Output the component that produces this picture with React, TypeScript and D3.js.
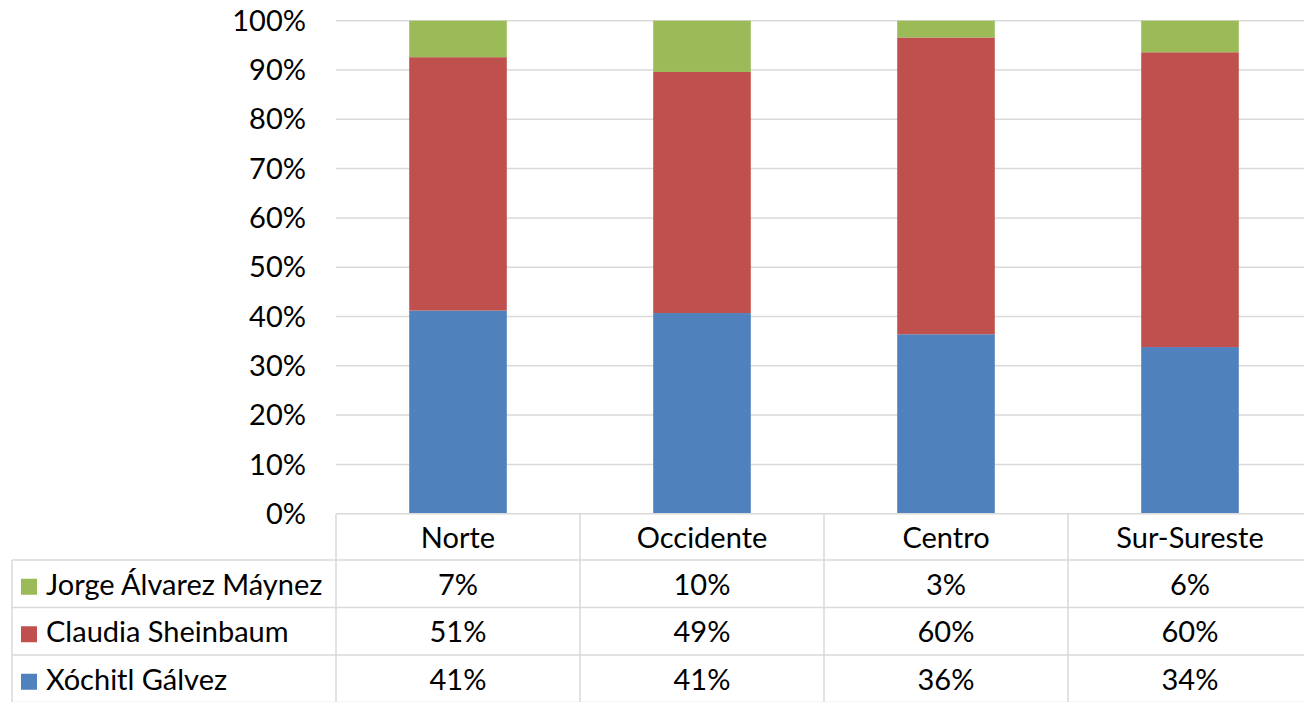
import React from "react";
import * as d3 from "d3";

const categories = ["Norte", "Occidente", "Centro", "Sur-Sureste"];
const seriesNames = ["Xóchitl Gálvez", "Claudia Sheinbaum", "Jorge Álvarez Máynez"];
const xochitl = [41.2, 40.7, 36.4, 33.8];
const claudia = [51.4, 48.9, 60.2, 59.8];
const jorge = [7.4, 10.4, 3.4, 6.4];
const colors = ["#4f81bd", "#c0504d", "#9bbb59"];
const yTicks = [0, 10, 20, 30, 40, 50, 60, 70, 80, 90, 100];

const W = 1304;
const H = 702;
const FONT = "Lato, 'Open Sans', sans-serif";
const FS = 29;

export default function App() {
  const plotLeft = 336;
  const plotRight = 1312;
  const x = d3
    .scaleBand<string>()
    .domain(categories)
    .range([plotLeft, plotRight])
    .paddingInner(0.6)
    .paddingOuter(0.3);
  const y = d3.scaleLinear().domain([0, 100]).range([513.7, 20.7]);

  const rows = categories.map((c, i) => ({
    cat: c,
    v: [xochitl[i], claudia[i], jorge[i]],
  }));
  const stack = d3.stack<any>().keys(["0", "1", "2"]).value((d: any, k: string) => d.v[+k]);
  const stacked = stack(rows as any);

  const step = x.step();
  const colEdges = categories.map((_, i) => plotLeft + i * step);
  const tableTop = y(0);
  const rowH = 47.5;
  const headerBottom = tableTop + 46.3;
  const tableLeft = 12;
  const tableRows = [2, 1, 0];
  const values = [xochitl, claudia, jorge];
  const grid = "#d9d9d9";

  return (
    <svg
      width={W}
      height={H}
      style={{ position: "absolute", left: 0, top: 0, background: "#fff" }}
      fontFamily={FONT}
    >
      {yTicks.filter((t) => t > 0).map((t) => (
        <line key={t} x1={plotLeft} x2={plotRight} y1={y(t)} y2={y(t)} stroke={grid} strokeWidth={1.5} />
      ))}
      {yTicks.map((t) => (
        <text key={t} x={306} y={y(t)} dy="0.35em" textAnchor="end" fontSize={FS} fill="#000">
          {t}%
        </text>
      ))}
      {stacked.map((s, si) =>
        s.map((d, i) => (
          <rect
            key={si + "-" + i}
            x={x(categories[i])}
            width={x.bandwidth()}
            y={y(d[1])}
            height={y(d[0]) - y(d[1])}
            fill={colors[si]}
          />
        ))
      )}
      <line x1={plotLeft} x2={plotRight} y1={tableTop} y2={tableTop} stroke={grid} strokeWidth={1.5} />
      {[0, 1, 2, 3].map((r) => (
        <line
          key={"h" + r}
          x1={tableLeft}
          x2={plotRight}
          y1={headerBottom + r * rowH}
          y2={headerBottom + r * rowH}
          stroke={grid}
          strokeWidth={1.5}
        />
      ))}
      {colEdges.concat([plotRight]).map((cx, i) => (
        <line key={"v" + i} x1={cx} x2={cx} y1={tableTop} y2={H + 2} stroke={grid} strokeWidth={1.5} />
      ))}
      <line x1={tableLeft} x2={tableLeft} y1={headerBottom} y2={H + 2} stroke={grid} strokeWidth={1.5} />
      {categories.map((c) => (
        <text
          key={c}
          x={(x(c) as number) + x.bandwidth() / 2}
          y={(tableTop + headerBottom) / 2 + 1}
          dy="0.35em"
          textAnchor="middle"
          fontSize={FS}
          fill="#000"
        >
          {c}
        </text>
      ))}
      {tableRows.map((si, r) => {
        const cy = headerBottom + r * rowH + rowH / 2 + 1;
        return (
          <g key={"r" + si}>
            <rect x={21} y={cy - 6} width={16} height={16} fill={colors[si]} />
            <text x={46} y={cy} dy="0.35em" fontSize={FS} fill="#000">
              {seriesNames[si]}
            </text>
            {categories.map((c, i) => (
              <text
                key={c}
                x={(x(c) as number) + x.bandwidth() / 2}
                y={cy}
                dy="0.35em"
                textAnchor="middle"
                fontSize={FS}
                fill="#000"
              >
                {Math.round(values[si][i])}%
              </text>
            ))}
          </g>
        );
      })}
    </svg>
  );
}
